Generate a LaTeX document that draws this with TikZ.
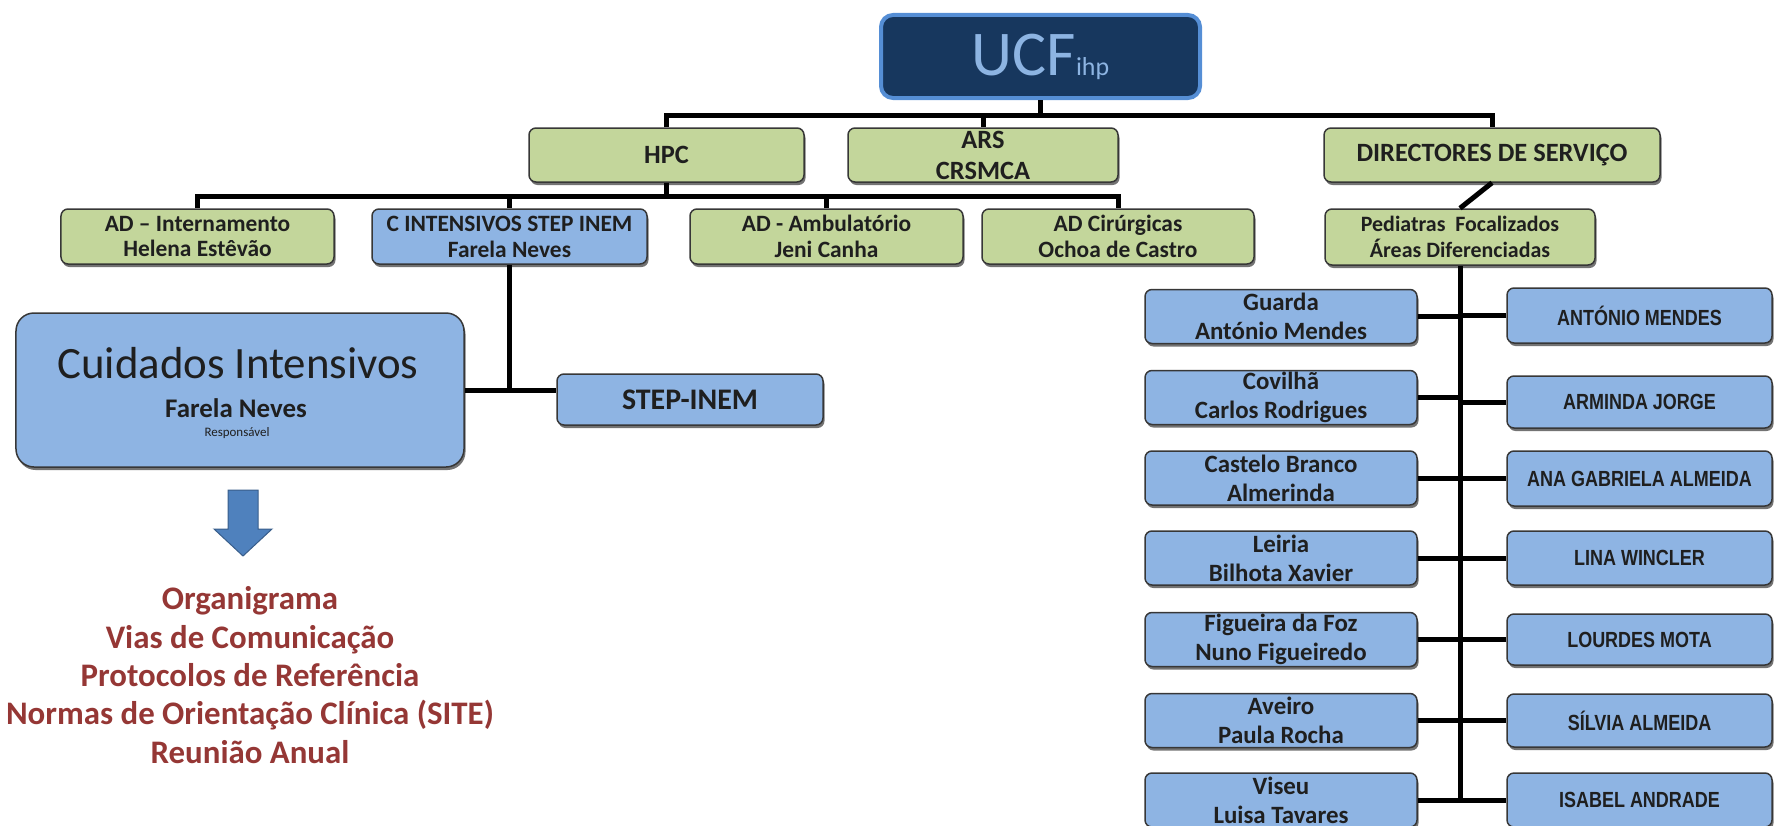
\documentclass[tikz,border=0pt]{standalone}
\usepackage{fontspec}
\setmainfont{Carlito}
\newfontfamily\narrowfont[FakeStretch=0.82]{Liberation Sans}
\usetikzlibrary{shadows}

\definecolor{boxgreen}{RGB}{195,214,155}
\definecolor{boxblue}{RGB}{142,180,227}
\definecolor{boxline}{RGB}{55,55,55}
\definecolor{ucfnavy}{RGB}{23,55,94}
\definecolor{ucfedge}{RGB}{85,142,213}
\definecolor{ucftext}{RGB}{141,180,226}
\definecolor{arrowblue}{RGB}{79,129,189}
\definecolor{arrowedge}{RGB}{56,93,138}
\definecolor{notered}{RGB}{149,55,53}

\tikzset{
  orgbox/.style={draw=boxline, line width=1.5bp, rounded corners=7bp, inner sep=0pt, align=center, text=black!88,
    drop shadow={shadow xshift=1.5bp, shadow yshift=-3bp, fill=black, opacity=0.55}},
  greenbox/.style={orgbox, fill=boxgreen},
  bluebox/.style={orgbox, fill=boxblue},
  topfont/.style={font=\fontsize{26.5}{31}\selectfont\bfseries},
  midfont/.style={font=\fontsize{23.5}{26}\selectfont\bfseries},
  pedfont/.style={font=\fontsize{22}{26}\selectfont\bfseries},
  townfont/.style={font=\fontsize{25}{29}\selectfont\bfseries},
  namefont/.style={font=\narrowfont\bfseries\fontsize{22}{26}\selectfont},
  conn/.style={line width=5bp, black},
}

\begin{document}
\begin{tikzpicture}[x=1bp,y=-1bp]
\useasboundingbox (0,0) rectangle (1775,826);

\node[draw=ucfedge, line width=4bp, fill=ucfnavy, rounded corners=12bp, minimum width=319bp, minimum height=83bp, inner sep=0pt, text=ucftext] (ucf) at (1040.5,56.5) {\fontsize{64}{64}\selectfont UCF\fontsize{26}{26}\selectfont ihp};

\node[greenbox, topfont, minimum width=275bp, minimum height=54bp] (hpc) at (666.5,155) {HPC};
\node[greenbox, topfont, minimum width=270bp, minimum height=54bp] (ars) at (983,155) {ARS\\CRSMCA};
\node[greenbox, topfont, minimum width=336bp, minimum height=54bp] (dir) at (1492,155) {DIRECTORES DE SERVIÇO};

\node[greenbox, midfont, minimum width=273bp, minimum height=55bp] (adint) at (197.5,236.5) {AD – Internamento\\Helena Estêvão};
\node[bluebox, midfont, minimum width=275bp, minimum height=55bp] (cint) at (509.5,236.5) {C INTENSIVOS STEP INEM\\Farela Neves};
\node[greenbox, midfont, minimum width=273bp, minimum height=55bp] (adamb) at (826.5,236.5) {AD - Ambulatório\\Jeni Canha};
\node[greenbox, midfont, minimum width=272bp, minimum height=55bp] (adcir) at (1118,236.5) {AD Cirúrgicas\\Ochoa de Castro};
\node[greenbox, pedfont, minimum width=270bp, minimum height=56bp] (ped) at (1460,237) {Pediatras\ \ Focalizados\\Áreas Diferenciadas};

\node[bluebox, minimum width=448bp, minimum height=154bp, rounded corners=18bp] (cuid) at (240,390) {};
\node[font=\fontsize{45}{45}\selectfont, text=black!88] (cuidtitle) at (238,363) {Cuidados Intensivos};
\node[font=\fontsize{27}{27}\selectfont\bfseries, text=black!88] (cuidname) at (236,408) {Farela Neves};
\node[font=\fontsize{13}{13}\selectfont, text=black!88] (cuidrole) at (237,433) {Responsável};
\node[bluebox, font=\fontsize{30}{30}\selectfont\bfseries, minimum width=266bp, minimum height=51bp] (step) at (690,399.5) {STEP-INEM};

\draw[fill=arrowblue, draw=arrowedge, line width=1bp] (228,490) -- (258,490) -- (258,529) -- (272,529) -- (243,556) -- (214,529) -- (228,529) -- cycle;
\node[font=\fontsize{33}{38.5}\selectfont\bfseries, text=notered, align=center] (notes) at (250,675) {Organigrama\\Vias de Comunicação\\Protocolos de Referência\\Normas de Orientação Clínica (SITE)\\Reunião Anual};

\node[bluebox, townfont, minimum width=272bp, minimum height=54bp] (guarda) at (1281,316.5) {Guarda\\António Mendes};
\node[bluebox, townfont, minimum width=272bp, minimum height=54bp] (covilha) at (1281,397.5) {Covilhã\\Carlos Rodrigues};
\node[bluebox, townfont, minimum width=272bp, minimum height=54bp] (castelo) at (1281,478) {Castelo Branco\\Almerinda};
\node[bluebox, townfont, minimum width=272bp, minimum height=54bp] (leiria) at (1281,558) {Leiria\\Bilhota Xavier};
\node[bluebox, townfont, minimum width=272bp, minimum height=54bp] (figueira) at (1281,639.5) {Figueira da Foz\\Nuno Figueiredo};
\node[bluebox, townfont, minimum width=272bp, minimum height=54bp] (aveiro) at (1281,720.5) {Aveiro\\Paula Rocha};
\node[bluebox, townfont, minimum width=272bp, minimum height=54bp] (viseu) at (1281,800) {Viseu\\Luisa Tavares};

\node[bluebox, namefont, minimum width=265bp, minimum height=55bp] (mendes) at (1639.5,315.5) {ANTÓNIO MENDES};
\node[bluebox, namefont, minimum width=265bp, minimum height=52bp] (jorge) at (1639.5,402) {ARMINDA JORGE};
\node[bluebox, namefont, minimum width=265bp, minimum height=55bp] (gabriela) at (1639.5,478.5) {ANA GABRIELA ALMEIDA};
\node[bluebox, namefont, minimum width=265bp, minimum height=54bp] (wincler) at (1639.5,558) {LINA WINCLER};
\node[bluebox, namefont, minimum width=265bp, minimum height=51bp] (mota) at (1639.5,639.5) {LOURDES MOTA};
\node[bluebox, namefont, minimum width=265bp, minimum height=53bp] (silvia) at (1639.5,720.5) {SÍLVIA ALMEIDA};
\node[bluebox, namefont, minimum width=265bp, minimum height=54bp] (andrade) at (1639.5,800) {ISABEL ANDRADE};

\coordinate (bus1) at (1040.5,115);
\coordinate (bus2) at (666.5,196);
\draw[conn] (ucf.south) -- (bus1);
\draw[conn] (hpc.north) |- (bus1) -| (dir.north);
\draw[conn] (ars.north) -- (ars.north |- bus1);
\draw[conn] (hpc.south) -- (bus2);
\draw[conn] (adint.north) |- (bus2) -| (adcir.north);
\draw[conn] (cint.north) -- (cint.north |- bus2);
\draw[conn] (adamb.north) -- (adamb.north |- bus2);
\draw[conn] (cint.south) |- (cuid.east);
\draw[conn] (cint.south |- cuid.east) -- (step.west |- cuid.east);
\draw[conn] (dir.south) -- (ped.north);
\draw[conn] (ped.south) -- (ped.south |- viseu.east);
\draw[conn] (guarda.east) -- (guarda.east -| ped.south);
\draw[conn] (covilha.east) -- (covilha.east -| ped.south);
\draw[conn] (castelo.east) -- (castelo.east -| ped.south);
\draw[conn] (leiria.east) -- (leiria.east -| ped.south);
\draw[conn] (figueira.east) -- (figueira.east -| ped.south);
\draw[conn] (aveiro.east) -- (aveiro.east -| ped.south);
\draw[conn] (viseu.east) -- (viseu.east -| ped.south);
\draw[conn] (mendes.west) -- (mendes.west -| ped.south);
\draw[conn] (jorge.west) -- (jorge.west -| ped.south);
\draw[conn] (gabriela.west) -- (gabriela.west -| ped.south);
\draw[conn] (wincler.west) -- (wincler.west -| ped.south);
\draw[conn] (mota.west) -- (mota.west -| ped.south);
\draw[conn] (silvia.west) -- (silvia.west -| ped.south);
\draw[conn] (andrade.west) -- (andrade.west -| ped.south);
\end{tikzpicture}
\end{document}
